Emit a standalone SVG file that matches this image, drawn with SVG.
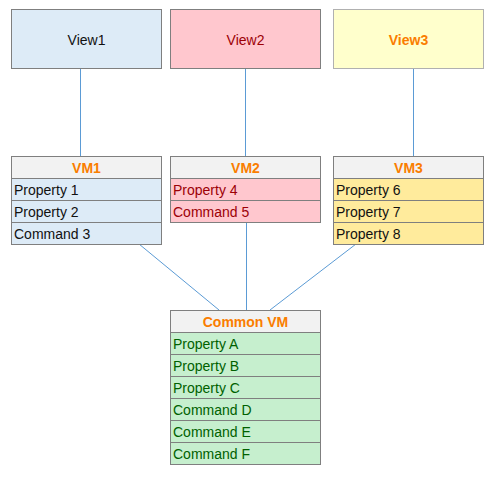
<svg xmlns="http://www.w3.org/2000/svg" width="494" height="477" viewBox="0 0 494 477">
<style>
text{font-family:"Liberation Sans",Arial,sans-serif;font-size:14px}
.box{stroke:#7f7f7f;stroke-width:1}
.c{text-anchor:middle}
.hdr{fill:#f2f2f2}
.ht{fill:#fa7d00;font-weight:bold}
.b{fill:#ddebf7}.bt{fill:#111}
.r{fill:#ffc7ce}.rt{fill:#9c0006}
.y{fill:#ffeb9c}.yt{fill:#111}
.g{fill:#c6efce}.gt{fill:#006100}
.ln{stroke:#5b9bd5;stroke-width:1;fill:none}
</style>
<rect width="494" height="477" fill="#fff"/>
<g id="connectors">
<line class="ln" x1="80.5" y1="68" x2="80.5" y2="156"/>
<line class="ln" x1="245.5" y1="69" x2="245.5" y2="156"/>
<line class="ln" x1="413.5" y1="68" x2="413.5" y2="156"/>
<line class="ln" x1="139" y1="244" x2="219" y2="310"/>
<line class="ln" x1="246.5" y1="222" x2="246.5" y2="310"/>
<line class="ln" x1="356" y1="244" x2="270" y2="310"/>
</g>
<g id="view1">
<rect class="box b" x="11.5" y="9.5" width="150" height="59"/>
<text class="c bt" x="86.5" y="45">View1</text>
</g>
<g id="view2">
<rect class="box r" x="170.5" y="9.5" width="150" height="59"/>
<text class="c rt" x="245.5" y="45">View2</text>
</g>
<g id="view3">
<rect x="333.5" y="9.5" width="150" height="59" fill="#ffffcc" stroke="#b0b0b0"/>
<text class="c ht" x="408.5" y="45">View3</text>
</g>
<g id="vm1">
<rect class="box hdr" x="11.5" y="156.5" width="150" height="22"/>
<text class="c ht" x="86.5" y="173">VM1</text>
<rect class="box b" x="11.5" y="178.5" width="150" height="22"/>
<text class="bt" x="14" y="195">Property 1</text>
<rect class="box b" x="11.5" y="200.5" width="150" height="22"/>
<text class="bt" x="14" y="217">Property 2</text>
<rect class="box b" x="11.5" y="222.5" width="150" height="22"/>
<text class="bt" x="14" y="239">Command 3</text>
</g>
<g id="vm2">
<rect class="box hdr" x="170.5" y="156.5" width="150" height="22"/>
<text class="c ht" x="245.5" y="173">VM2</text>
<rect class="box r" x="170.5" y="178.5" width="150" height="22"/>
<text class="rt" x="173" y="195">Property 4</text>
<rect class="box r" x="170.5" y="200.5" width="150" height="22"/>
<text class="rt" x="173" y="217">Command 5</text>
</g>
<g id="vm3">
<rect class="box hdr" x="333.5" y="156.5" width="150" height="22"/>
<text class="c ht" x="408.5" y="173">VM3</text>
<rect class="box y" x="333.5" y="178.5" width="150" height="22"/>
<text class="yt" x="336" y="195">Property 6</text>
<rect class="box y" x="333.5" y="200.5" width="150" height="22"/>
<text class="yt" x="336" y="217">Property 7</text>
<rect class="box y" x="333.5" y="222.5" width="150" height="22"/>
<text class="yt" x="336" y="239">Property 8</text>
</g>
<g id="commonvm">
<rect class="box hdr" x="170.5" y="310.5" width="150" height="22"/>
<text class="c ht" x="245.5" y="327">Common VM</text>
<rect class="box g" x="170.5" y="332.5" width="150" height="22"/>
<text class="gt" x="173" y="349">Property A</text>
<rect class="box g" x="170.5" y="354.5" width="150" height="22"/>
<text class="gt" x="173" y="371">Property B</text>
<rect class="box g" x="170.5" y="376.5" width="150" height="22"/>
<text class="gt" x="173" y="393">Property C</text>
<rect class="box g" x="170.5" y="398.5" width="150" height="22"/>
<text class="gt" x="173" y="415">Command D</text>
<rect class="box g" x="170.5" y="420.5" width="150" height="22"/>
<text class="gt" x="173" y="437">Command E</text>
<rect class="box g" x="170.5" y="442.5" width="150" height="22"/>
<text class="gt" x="173" y="459">Command F</text>
</g>
</svg>
